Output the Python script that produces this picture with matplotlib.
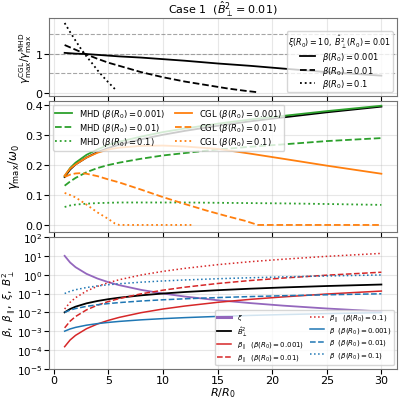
import matplotlib
matplotlib.use("Agg")
import matplotlib.pyplot as plt
import numpy as np

# radius grid used for the smooth curves (R / R0)
R = [1, 1.5, 2, 3, 4, 5, 6, 8, 10, 12, 15, 18, 21, 25, 30]

# top panel: growth-rate ratio CGL / MHD
ratio_001 = [1.02, 1.01, 1.0, 0.99, 0.97, 0.95, 0.93, 0.9, 0.86, 0.82, 0.75, 0.69, 0.62, 0.53, 0.44]
R_ratio_01 = [1, 1.5, 2, 3, 4, 5, 6, 8, 10, 12, 14, 16, 17.5, 18.6]
ratio_01 = [1.22, 1.16, 1.1, 0.98, 0.87, 0.77, 0.69, 0.53, 0.4, 0.29, 0.2, 0.11, 0.055, 0.02]
R_ratio_1 = [1, 1.5, 2, 2.5, 3, 3.5, 4, 4.5, 5, 5.6]
ratio_1 = [1.78, 1.55, 1.33, 1.12, 0.93, 0.76, 0.58, 0.42, 0.27, 0.1]

# middle panel: gamma_max / omega_0
mhd_001 = [0.163, 0.19, 0.208, 0.234, 0.252, 0.267, 0.278, 0.295, 0.31, 0.322, 0.338, 0.352, 0.364, 0.38, 0.398]
ref_black = [0.16, 0.185, 0.202, 0.225, 0.243, 0.257, 0.268, 0.286, 0.301, 0.314, 0.331, 0.346, 0.359, 0.376, 0.395]
cgl_001 = [0.165, 0.188, 0.202, 0.225, 0.241, 0.252, 0.258, 0.264, 0.265, 0.262, 0.254, 0.238, 0.221, 0.198, 0.171]
mhd_01 = [0.131, 0.145, 0.157, 0.176, 0.19, 0.2, 0.208, 0.221, 0.232, 0.24, 0.252, 0.261, 0.269, 0.28, 0.29]
mhd_1 = [0.06, 0.065, 0.068, 0.071, 0.073, 0.074, 0.075, 0.075, 0.075, 0.075, 0.074, 0.073, 0.072, 0.07, 0.067]
R_cgl_01 = [1, 1.5, 2, 2.5, 3, 4, 5, 6, 8, 10, 12, 14, 16, 17.5, 18.7, 20, 25, 30]
cgl_01 = [0.16, 0.168, 0.172, 0.173, 0.171, 0.163, 0.152, 0.142, 0.118, 0.093, 0.07, 0.048, 0.028, 0.014, 0.0, 0.0, 0.0, 0.0]
R_cgl_1 = [1, 1.5, 2, 3, 4, 5, 5.6, 6, 8, 10, 12.6]
cgl_1 = [0.107, 0.1, 0.092, 0.068, 0.042, 0.02, 0.005, 0.0, 0.0, 0.0, 0.0]

# bottom panel: plasma parameters
xi = [10, 4.44, 2.5, 1.11, 0.625, 0.4, 0.278, 0.156, 0.1, 0.069, 0.044, 0.031, 0.0227, 0.016, 0.0111]
b_perp2 = [0.01, 0.015, 0.02, 0.03, 0.04, 0.05, 0.06, 0.08, 0.1, 0.12, 0.15, 0.18, 0.21, 0.25, 0.3]
beta_par_001 = [1.5e-4, 3.4e-4, 6e-4, 1.35e-3, 2.4e-3, 3.75e-3, 5.4e-3, 9.6e-3, 1.5e-2, 2.16e-2, 3.4e-2, 4.9e-2, 6.6e-2, 9.4e-2, 0.135]
beta_par_01 = [1.5e-3, 3.4e-3, 6e-3, 1.35e-2, 2.4e-2, 3.75e-2, 5.4e-2, 9.6e-2, 0.15, 0.216, 0.34, 0.49, 0.66, 0.94, 1.35]
beta_par_1 = [1.5e-2, 3.4e-2, 6e-2, 0.135, 0.24, 0.375, 0.54, 0.96, 1.5, 2.16, 3.4, 4.9, 6.6, 9.4, 13.5]
beta_001 = [1e-3, 1.31e-3, 1.59e-3, 2.08e-3, 2.52e-3, 2.92e-3, 3.3e-3, 4.0e-3, 4.64e-3, 5.24e-3, 6.08e-3, 6.87e-3, 7.61e-3, 8.55e-3, 9.65e-3]
beta_01 = [1e-2, 1.31e-2, 1.59e-2, 2.08e-2, 2.52e-2, 2.92e-2, 3.3e-2, 4.0e-2, 4.64e-2, 5.24e-2, 6.08e-2, 6.87e-2, 7.61e-2, 8.55e-2, 9.65e-2]
beta_1 = [0.1, 0.131, 0.159, 0.208, 0.252, 0.292, 0.33, 0.40, 0.464, 0.524, 0.608, 0.687, 0.761, 0.855, 0.965]

GREEN = "#2ca02c"
ORANGE = "#ff7f0e"
RED = "#d62728"
BLUE = "#1f77b4"
PURPLE = "#9467bd"

plt.rcParams["font.size"] = 8.5

fig, (ax_r, ax_g, ax_b) = plt.subplots(
    3, 1, figsize=(4.0, 4.02), dpi=100, sharex=True,
    gridspec_kw={"height_ratios": [0.59, 1, 1], "hspace": 0.04},
)
fig.subplots_adjust(left=0.122, right=0.993, top=0.952, bottom=0.08)

for ax in (ax_r, ax_g, ax_b):
    ax.grid(alpha=0.3)
    for spine in ax.spines.values():
        spine.set_color("0.45")

# ratio panel
for y in (0.5, 1.0, 1.5):
    ax_r.axhline(y, color="gray", ls="--", lw=0.8, alpha=0.7)
l1, = ax_r.plot(R, ratio_001, color="k", ls="-", lw=1.3)
l2, = ax_r.plot(R_ratio_01, ratio_01, color="k", ls="--", lw=1.3)
l3, = ax_r.plot(R_ratio_1, ratio_1, color="k", ls=":", lw=1.3)
ax_r.set_ylim(-0.08, 1.9)
ax_r.set_yticks([0, 1])
ax_r.set_ylabel(r"$\gamma^{\rm CGL}_{\rm max}/\gamma^{\rm MHD}_{\rm max}$", fontsize=7.5, labelpad=1)
ax_r.legend(
    [l1, l2, l3],
    [r"$\beta(R_0) = 0.001$", r"$\beta(R_0) = 0.01$", r"$\beta(R_0) = 0.1$"],
    title=r"$\xi(R_0) = 10,\ \hat{B}^2_\perp(R_0) = 0.01$",
    title_fontsize=5.8, fontsize=6, loc="lower right",
    handlelength=1.8, borderpad=0.2, labelspacing=0.05,
)
ax_r.set_title(r"Case 1  ($\hat{B}^2_\perp = 0.01$)", fontsize=8, pad=1)

# growth-rate panel
ax_g.plot(R, ref_black, color="k", lw=1.3)
ax_g.plot(R, mhd_001, color=GREEN, ls="-", lw=1.3, label=r"MHD ($\beta(R_0) = 0.001$)")
ax_g.plot(R, mhd_01, color=GREEN, ls="--", lw=1.3, label=r"MHD ($\beta(R_0) = 0.01$)")
ax_g.plot(R, mhd_1, color=GREEN, ls=":", lw=1.3, label=r"MHD ($\beta(R_0) = 0.1$)")
ax_g.plot(R, cgl_001, color=ORANGE, ls="-", lw=1.3, label=r"CGL ($\beta(R_0) = 0.001$)")
ax_g.plot(R_cgl_01, cgl_01, color=ORANGE, ls="--", lw=1.3, label=r"CGL ($\beta(R_0) = 0.01$)")
ax_g.plot(R_cgl_1, cgl_1, color=ORANGE, ls=":", lw=1.3, label=r"CGL ($\beta(R_0) = 0.1$)")
ax_g.set_ylim(-0.025, 0.415)
ax_g.set_yticks([0.0, 0.1, 0.2, 0.3, 0.4])
ax_g.set_ylabel(r"$\gamma_{\rm max}/\omega_0$", fontsize=8.5, labelpad=2)
ax_g.legend(loc="upper left", ncol=2, fontsize=6, borderpad=0.3,
            labelspacing=0.12, columnspacing=1.2, handlelength=2.0)

# parameter panel
ax_b.plot(R, xi, color=PURPLE, lw=1.3, label=r"$\xi$")
ax_b.plot(R, b_perp2, color="k", lw=1.3, label=r"$\hat{B}^2_\perp$")
ax_b.plot(R, beta_par_001, color=RED, ls="-", lw=1.1, label=r"$\beta_\parallel$  ($\beta(R_0) = 0.001$)")
ax_b.plot(R, beta_par_01, color=RED, ls="--", lw=1.1, label=r"$\beta_\parallel$  ($\beta(R_0) = 0.01$)")
ax_b.plot(R, beta_par_1, color=RED, ls=":", lw=1.1, label=r"$\beta_\parallel$  ($\beta(R_0) = 0.1$)")
ax_b.plot(R, beta_001, color=BLUE, ls="-", lw=1.1, label=r"$\beta$  ($\beta(R_0) = 0.001$)")
ax_b.plot(R, beta_01, color=BLUE, ls="--", lw=1.1, label=r"$\beta$  ($\beta(R_0) = 0.01$)")
ax_b.plot(R, beta_1, color=BLUE, ls=":", lw=1.1, label=r"$\beta$  ($\beta(R_0) = 0.1$)")
ax_b.set_yscale("log")
ax_b.set_ylim(1e-5, 1e2)
ax_b.set_yticks([1e-5, 1e-4, 1e-3, 1e-2, 1e-1, 1e0, 1e1, 1e2])
ax_b.grid(which="minor", alpha=0.15)
ax_b.set_ylabel(r"$\beta,\ \beta_\parallel,\ \xi,\ \hat{B}^2_\perp$", fontsize=7.5)
ax_b.yaxis.set_label_coords(-0.087, 0.5)
ax_b.set_xlabel(r"$R/R_0$", fontsize=8, labelpad=0)
ax_b.set_xticks([0, 5, 10, 15, 20, 25, 30])
leg = ax_b.legend(loc="lower right", ncol=2, fontsize=5, borderpad=0.3,
                  labelspacing=0.3, columnspacing=0.8, handlelength=2.0)
for line in leg.get_lines()[:1]:
    line.set_linewidth(2.2)

for ax in (ax_r, ax_g, ax_b):
    ax.tick_params(labelsize=8, pad=1)
ax_b.tick_params(axis="y", labelsize=7.5)

fig.savefig("out.png")
